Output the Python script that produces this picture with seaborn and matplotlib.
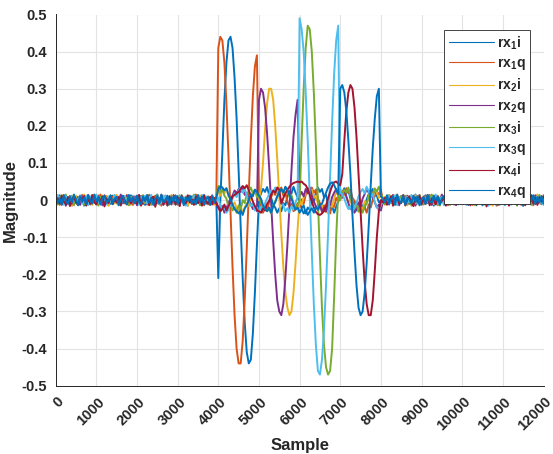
import numpy as np
import pandas as pd
import matplotlib
matplotlib.use('Agg')
import matplotlib.pyplot as plt
import matplotlib.transforms as mtransforms
import seaborn as sns

sns.set_style('white')
plt.rcParams['font.family'] = ['Liberation Sans', 'DejaVu Sans']
plt.rcParams['font.weight'] = 'bold'
plt.rcParams['axes.labelweight'] = 'bold'
plt.rcParams['mathtext.default'] = 'regular'
plt.rcParams['axes.unicode_minus'] = False

# sample positions, one value every 50 samples
sample = np.arange(0, 12001, 50)

# values, in thousandths
# each series: 79 quiet (0-3900), 83 burst (3950-8050), 79 quiet (8100-12000)
rx1i = [4, -9, 13, -6, 10, -14, 2, 11, -8, 15, -3, -12, 7, 9, -15, 5, 12, -7, -2, 14,
        -11, 6, -4, 10, -13, 8, 3, -10, 12, -5, 9, -14, 1, 11, -8, 6, -12, 13, -3, 7,
        -10, 14, -6, 3, -13, 9, 12, -4, -9, 6, 15, -11, 2, -7, 10, -14, 5, 8, -3, -12,
        11, -6, 13, -9, 1, -15, 7, 10, -5, 12, -8, 4, -13, 14, -2, 9, -11, 6, -7,
        5, -210, 0, 130, 270, 370, 430, 440, 410, 330, 220,
        80, -70, -210, -330, -410, -440, -430, -360, -250, -120, 0,
        18, 30, 22, 35, 14, 6, -12, -20, -34, -22,
        -30, -8, -14, 10, 24, 18, 36, 20, 8, -6,
        -22, -14, -36, -20, -26, 4, -6, 20, 34, 22,
        30, 8, 14, -10, -26, -16, -34, -18, -4, 10,
        20, 32, 18, 26, 4, -12, -4, -28, -20, -32,
        -14, -22, 2, 16, 8, 30, 22, 12, -6, -2,
        4,
        -7, 12, -3, 9, -14, 5, 11, -10, 2, 14, -6, -13, 8, 4, -11, 15, -2, 10, -9, 6,
        13, -8, -1, 11, -15, 7, 3, -12, 9, -4, 12, -6, -10, 8, 1, -13, 10, -5, 14, -9,
        5, -11, 13, -4, 8, -14, 10, -2, -7, 12, -10, 3, 15, -8, 6, -13, 11, -1, -9, 14,
        -5, 9, -12, 2, 13, -6, -10, 7, -15, 11, 4, -8, 12, -3, -11, 10, -6, 8, -4]

rx1q = [10, -5, -13, 8, 3, 12, -9, 6, -15, 11, -2, 9, -11, 14, -7, 1, -12, 7, 13, -4,
        -10, 5, 15, -8, -3, 11, -14, 6, 9, -6, 2, -11, 12, -1, -9, 14, -5, 8, -13, 4,
        -8, 13, -2, -11, 9, 6, -14, 10, -4, 12, -9, 3, -15, 8, 11, -6, 1, -12, 14, -7,
        5, -10, 12, -3, -13, 9, 7, -11, 2, 15, -8, -4, 11, -14, 6, 10, -9, 3, -12,
        -3, 410, 440, 430, 370, 260, 120, -30, -180, -310, -400,
        -440, -440, -380, -270, -130, 20, 160, 280, 360, 390, 10,
        -20, -34, -18, -28, -6, 8, 22, 14, 32, 26,
        34, 12, 20, -4, -18, -10, -30, -24, -8, -20,
        2, -10, 14, 26, 18, 34, 20, 28, 4, -8,
        -20, -14, -32, -24, -36, -12, -18, 6, -4, 16,
        24, 14, 32, 20, 28, 6, -2, -16, -8, -26,
        -30, -18, -34, -12, -20, 2, 10, 24, 14, 28,
        -3,
        -12, 6, 9, -3, 14, -10, 1, 8, -7, 13, -15, 4, 11, -6, -2, 12, -9, 7, -13, 10,
        3, -8, 14, -11, 5, 9, -4, -12, 11, -1, 7, -14, 10, 2, -6, 13, -10, 4, -3, 12,
        -9, 11, -5, -13, 8, 2, 14, -7, -10, 6, -3, 13, -12, 9, 1, -15, 10, -6, 12, -4,
        8, -11, 3, 15, -9, -2, 11, -13, 6, 9, -7, 12, -1, -14, 10, -5, 7, -10, 13]

rx2i = [-2, 11, -8, 14, -12, 5, 9, -4, -14, 7, 12, -9, 3, -6, 15, -11, 8, 1, -13, 10,
        -5, 13, -10, 4, -7, 11, -15, 6, 2, -9, 14, -3, -11, 9, -6, 12, -1, -13, 8, 5,
        -12, 10, -4, 13, -8, -1, 15, -10, 6, -14, 9, 3, -7, 12, -11, 5, -2, 14, -9, 7,
        -13, 1, 11, -6, 10, -15, 8, -3, 12, -10, 4, 13, -8, -5, 9, -12, 6, 2, -11,
        8, 24, 12, 30, 18, 32, 10, 4, -14, -6, -22,
        -30, -18, -34, -20, -8, -16, 6, 14, 28, 18, 0,
        30, 100, 190, 260, 300, 300, 270, 200, 110, 10,
        -90, -180, -250, -290, -310, -300, -250, -170, -80, 0,
        -12, 8, 18, 34, 22, 28, 6, 12, -10, -24,
        -14, -30, -20, -36, -8, -18, 4, 22, 14, 30,
        18, 26, 8, -6, 2, -20, -28, -14, -32, -18,
        -26, -4, -12, 10, 22, 16, 32, 20, 6, 12,
        2,
        9, -13, 4, 12, -7, -1, 15, -10, 6, -5, 11, -14, 8, 2, -9, 13, -4, 10, -12, 3,
        -6, 14, -8, 7, -11, 1, 12, -15, 5, 9, -3, 10, -13, 6, -7, 11, -2, -10, 13, -4,
        7, -12, 10, -1, -8, 14, -5, 11, -13, 3, 9, -10, 6, -15, 12, -2, 8, -9, 13, -6,
        1, -11, 14, -4, 10, -12, 5, 7, -14, 11, -3, -8, 12, -10, 4, 15, -7, -1, 9]

rx2q = [13, -6, 1, -11, 9, -15, 7, 4, -10, 12, -3, 8, -13, 10, -1, -8, 14, -12, 5, 6,
        -9, 11, -4, -14, 13, 2, -7, 10, -11, 3, 8, -5, 15, -9, -2, 12, -13, 6, -6, 10,
        -14, 4, 11, -8, 2, -12, 13, -5, 9, -10, 6, -1, 14, -13, 7, -4, 10, -11, 12, -7,
        3, -15, 9, 5, -12, 11, -3, -9, 14, -6, 8, -13, 1, 12, -10, 6, -4, 13, -8,
        -6, -20, -30, -16, -34, -22, -8, 4, 12, 26, 18,
        30, 22, 36, 14, 20, -2, -10, -24, -18, -30, 270,
        300, 290, 250, 180, 90, -10, -110, -200, -270, -300,
        -310, -280, -210, -120, -20, 80, 170, 230, 270, 10,
        22, 10, 30, 18, 34, 12, -4, -16, -26, -12,
        -32, -20, -30, -6, -14, 8, 20, 30, 16, 24,
        6, 28, 10, -8, -24, -14, -34, -22, -6, -18,
        4, 16, 30, 20, 26, 6, -6, -20, -12, -28,
        -4,
        -5, 8, -12, 3, 13, -9, 6, -14, 11, 1, -7, 12, -10, 4, 9, -15, 2, 14, -6, -11,
        10, -3, 7, -13, 12, -8, 5, -1, 15, -10, -4, 11, -9, 6, -12, 3, 13, -7, 8, -2,
        11, -13, 5, -6, 14, -9, 2, 10, -12, 7, -4, 13, -11, 8, -1, -14, 12, -5, 9, -10,
        4, 14, -8, -3, 11, -12, 6, 9, -13, 2, 12, -7, -10, 5, 13, -9, 1, -11, 7]

rx3i = [7, -12, 10, -3, -9, 15, -6, 2, 12, -14, 5, -8, 11, -1, -13, 9, 4, -10, 14, -7,
        1, -15, 8, 12, -5, -11, 6, 10, -4, 13, -9, 3, -12, 11, -2, 7, -14, 9, 5, -8,
        12, -4, -10, 13, -7, 3, 9, -13, 6, -1, 14, -11, 8, -6, 10, -15, 2, 11, -9, 4,
        -12, 13, -3, 7, -10, 12, -5, -8, 15, -2, 9, -14, 6, 11, -7, 1, -13, 10, -4,
        10, 38, 20, 28, 12, 4, -18, -10, -28, -20, -34,
        -14, -26, 0, -8, 16, 24, 34, 18, 28, 8, 12,
        -6, -22, -12, -30, -24, -36, -16, -4, 10, 20,
        30, 18, 34, 26, 8, 14, -10, -22, -14, 0,
        160, 300, 410, 470, 460, 400, 290, 150, 0, -150,
        -290, -390, -450, -470, -460, -400, -260, -100, 20, 0,
        14, 28, 20, 34, 10, -6, -20, -12, -30, -24,
        -34, -16, -8, 8, 22, 12, 30, 24, 36, 16,
        6,
        -11, 4, 14, -7, 2, -13, 9, -5, 11, -2, 12, -10, 6, -15, 8, 3, -9, 13, -4, -12,
        10, -6, 1, 15, -8, 5, -14, 7, -3, 11, -1, -12, 9, -7, 14, -10, 4, 12, -11, 6,
        -3, 13, -9, 8, -14, 2, 11, -6, 10, -12, 5, -1, 14, -8, 7, -13, 12, -4, -10, 9,
        3, -11, 13, -7, 6, -15, 10, -2, 12, -9, 4, 8, -13, 11, -5, -1, 14, -10, 7]

rx3q = [-9, 14, -4, 6, -12, 10, -1, -14, 8, 11, -7, 3, 13, -10, -5, 12, -13, 9, 2, -8,
        15, -6, -11, 7, 4, -12, 10, -2, -9, 14, -4, 8, -15, 5, 11, -7, 1, -10, 12, -3,
        6, -13, 9, -5, 12, -10, 3, 14, -8, -2, 11, -12, 7, -6, 13, -14, 4, 10, -9, 1,
        -11, 12, -3, 8, -15, 6, 9, -7, 13, -12, 2, -5, 14, -9, 10, -1, -13, 7, -6,
        -4, 6, -14, -24, -18, -34, -26, -10, 4, 18, 8,
        26, 34, 20, 30, 12, -4, -16, -10, -28, -20, -32,
        -18, -26, -8, 4, 16, 26, 18, 34, 22, 10,
        -2, -14, -30, -22, -34, -16, -26, -6, 8, 490,
        460, 400, 290, 160, 10, -140, -280, -390, -460, -470,
        -430, -350, -230, -90, 60, 210, 340, 430, 470, 20,
        16, 4, -12, -24, -16, -32, -20, -8, 10, 22,
        30, 18, 36, 24, 8, 16, -6, -18, -28, -14,
        -2,
        3, -10, 12, -8, 7, 13, -14, 5, -2, 10, -11, 9, -6, 14, -3, -9, 11, -13, 6, 1,
        -7, 12, -12, 8, -4, 15, -10, 2, 9, -14, 6, -1, 11, -8, 13, -5, -12, 10, -6, 7,
        -13, 9, -2, 12, -10, 4, 14, -7, -11, 8, 1, -15, 10, -4, 13, -9, 6, -12, 11, -3,
        7, -14, 9, 2, -10, 13, -6, 11, -1, -12, 8, -7, 14, -11, 5, 10, -9, 3, -13]

rx4i = [-14, 5, -9, 12, -4, -11, 8, -16, 3, 10, -7, -13, 9, -2, 11, -15, 6, -10, 13, -5,
        -12, 7, -3, 10, -17, 4, -8, 12, -11, 2, -6, 9, -14, 11, -1, -12, 5, -9, 8, -4,
        -10, 13, -15, 6, -2, 11, -13, 4, 9, -18, 7, -5, 12, -11, 1, -14, 10, -7, 3, -12,
        8, -16, 11, -4, -9, 13, -6, 2, -13, 10, -8, 5, -15, 12, -3, -10, 9, -12, 6,
        -8, -20, -30, -24, -12, -28, -16, -6, 10, 14, 18,
        22, 30, 38, 32, 40, 26, 12, -4, -16, -26, -30,
        -34, -22, -28, -10, -2, 14, 26, 20, 34, 28,
        -10, 6, 18, 28, 36, 42, 46, 48, 50, 48,
        50, 44, 40, 30, 14, -4, -20, -32, -38, -40,
        -36, -30, -14, 4, 22, 38, 48, 50, 44, 40,
        70, 160, 240, 290, 310, 300, 250, 170, 70, -30,
        -130, -220, -280, -310, -310, -270, -190, -100, -30, 0,
        -6,
        6, -12, -3, 10, -15, 4, 8, -10, -6, 12, -13, 2, 9, -8, -16, 7, -4, 11, -11, 3,
        -9, 13, -14, 5, 1, -12, 10, -7, -2, 9, -15, 6, -10, 12, -5, -13, 8, -1, -11, 4,
        -7, 11, -14, 9, -3, -12, 6, 13, -10, 2, -17, 8, -5, 12, -9, 4, -13, 10, -1, -11,
        7, -15, 12, -6, 3, -12, 9, -8, 11, -14, 5, -2, 13, -10, 6, -13, 8, -4, 10]

rx4q = [11, -8, 5, -13, 14, -3, -10, 9, -6, 12, 2, -14, 10, -5, 7, -11, 13, -1, -9, 15,
        -4, 8, -12, 6, 11, -7, -2, 13, -10, 4, 9, -13, 1, 12, -6, -11, 14, -3, 7, -9,
        12, -5, -11, 10, -2, 14, -8, 6, -13, 3, 11, -9, 15, -6, -1, 12, -12, 8, -4, 13,
        -10, 5, 9, -14, 7, -3, 12, -8, 1, -11, 14, -6, 10, -12, 4, 8, -13, 11, -5,
        6, 30, 38, 34, 26, 32, 14, 2, -12, -24, -30,
        -36, -28, -40, -22, -14, 0, 16, 10, 28, 22, 12,
        4, -14, -24, -30, -20, -34, -16, -6, 10, 22,
        30, 20, 36, 28, 14, 4, -12, -26, -20, -34,
        -24, -36, -28, -40, -30, -22, -34, -18, -26, -12,
        -10, 6, 20, 34, 44, 48, 40, 28, 16, 300,
        310, 290, 240, 160, 70, -40, -140, -230, -290, -310,
        -300, -250, -170, -70, 40, 140, 220, 280, 300, 10,
        4,
        -6, 13, -10, 4, 9, -12, 15, -2, -8, 11, -13, 6, 1, -9, 12, -5, 10, -14, 3, 8,
        -11, 14, -4, -7, 12, -1, 9, -13, 5, 11, -8, 2, -12, 10, -3, 13, -9, 6, -5, 1,
        10, -12, 7, -3, 14, -9, -1, 11, -14, 6, 8, -10, 13, -4, -7, 12, -11, 5, 9, -13,
        2, 14, -8, -5, 11, -12, 6, 10, -15, 3, 12, -7, -2, 13, -10, 8, -6, 11, -9]

names = ['rx$_1$i', 'rx$_1$q', 'rx$_2$i', 'rx$_2$q', 'rx$_3$i', 'rx$_3$q', 'rx$_4$i', 'rx$_4$q']
series = [rx1i, rx1q, rx2i, rx2q, rx3i, rx3q, rx4i, rx4q]
colors = ['#0072BD', '#D95319', '#EDB120', '#7E2F8E', '#77AC30', '#4DBEEE', '#A2142F', '#0072BD']

for s in series:
    assert len(s) == len(sample), len(s)

df = pd.concat([pd.DataFrame({'Sample': sample, 'Magnitude': np.array(v) / 1000.0, 'signal': n})
                for n, v in zip(names, series)], ignore_index=True)

fig = plt.figure(figsize=(5.53, 4.54), dpi=100)
ax = fig.add_axes([55.7 / 553, 1 - 385.7 / 454, (543.5 - 55.7) / 553, (385.7 - 14.5) / 454])

# one call per signal so the drawing order (and legend order) is rx1i ... rx4q
for n, c in zip(names, colors):
    sns.lineplot(data=df[df['signal'] == n], x='Sample', y='Magnitude', color=c,
                 estimator=None, sort=False, linewidth=1.4, ax=ax)

ax.set_xlim(0, 12000)
ax.set_ylim(-0.5, 0.5)
ax.set_xticks(range(0, 12001, 1000))
ax.set_yticks(np.round(np.arange(-0.5, 0.51, 0.1), 1))
ax.set_yticklabels(['-0.5', '-0.4', '-0.3', '-0.2', '-0.1', '0', '0.1', '0.2', '0.3', '0.4', '0.5'])
ax.grid(True, color='#e3e3e3', lw=0.8)
ax.set_axisbelow(True)
for side in ['top', 'right']:
    ax.spines[side].set_visible(False)
for side in ['left', 'bottom']:
    ax.spines[side].set_color('#262626')
    ax.spines[side].set_linewidth(0.7)
ax.tick_params(direction='in', length=4, width=0.7, color='#262626', labelsize=10.5, labelcolor='#262626')
ax.tick_params(axis='y', pad=6)
shift = mtransforms.ScaledTranslation(6 / 100, -9 / 100, fig.dpi_scale_trans)
for lab in ax.get_xticklabels():
    lab.set_rotation(45)
    lab.set_ha('right')
    lab.set_va('center')
    lab.set_rotation_mode('anchor')
    lab.set_transform(lab.get_transform() + shift)

ax.set_xlabel('Sample', fontsize=12, color='#262626', labelpad=3)
ax.set_ylabel('Magnitude', fontsize=12, color='#262626', labelpad=3)

leg = ax.legend(ax.get_lines()[:8], names, loc='upper right', bbox_to_anchor=(530 / 553, 1 - 30 / 454),
                bbox_transform=fig.transFigure, borderaxespad=0, fontsize=10, handlelength=3.3,
                handletextpad=0.2, borderpad=0.3, labelspacing=0.33, fancybox=False,
                framealpha=1, edgecolor='#262626')
leg.get_frame().set_linewidth(0.6)
for t in leg.get_texts():
    t.set_color('#262626')
for h in leg.get_lines():
    h.set_linewidth(0.8)

fig.savefig('out.png', dpi=100)
